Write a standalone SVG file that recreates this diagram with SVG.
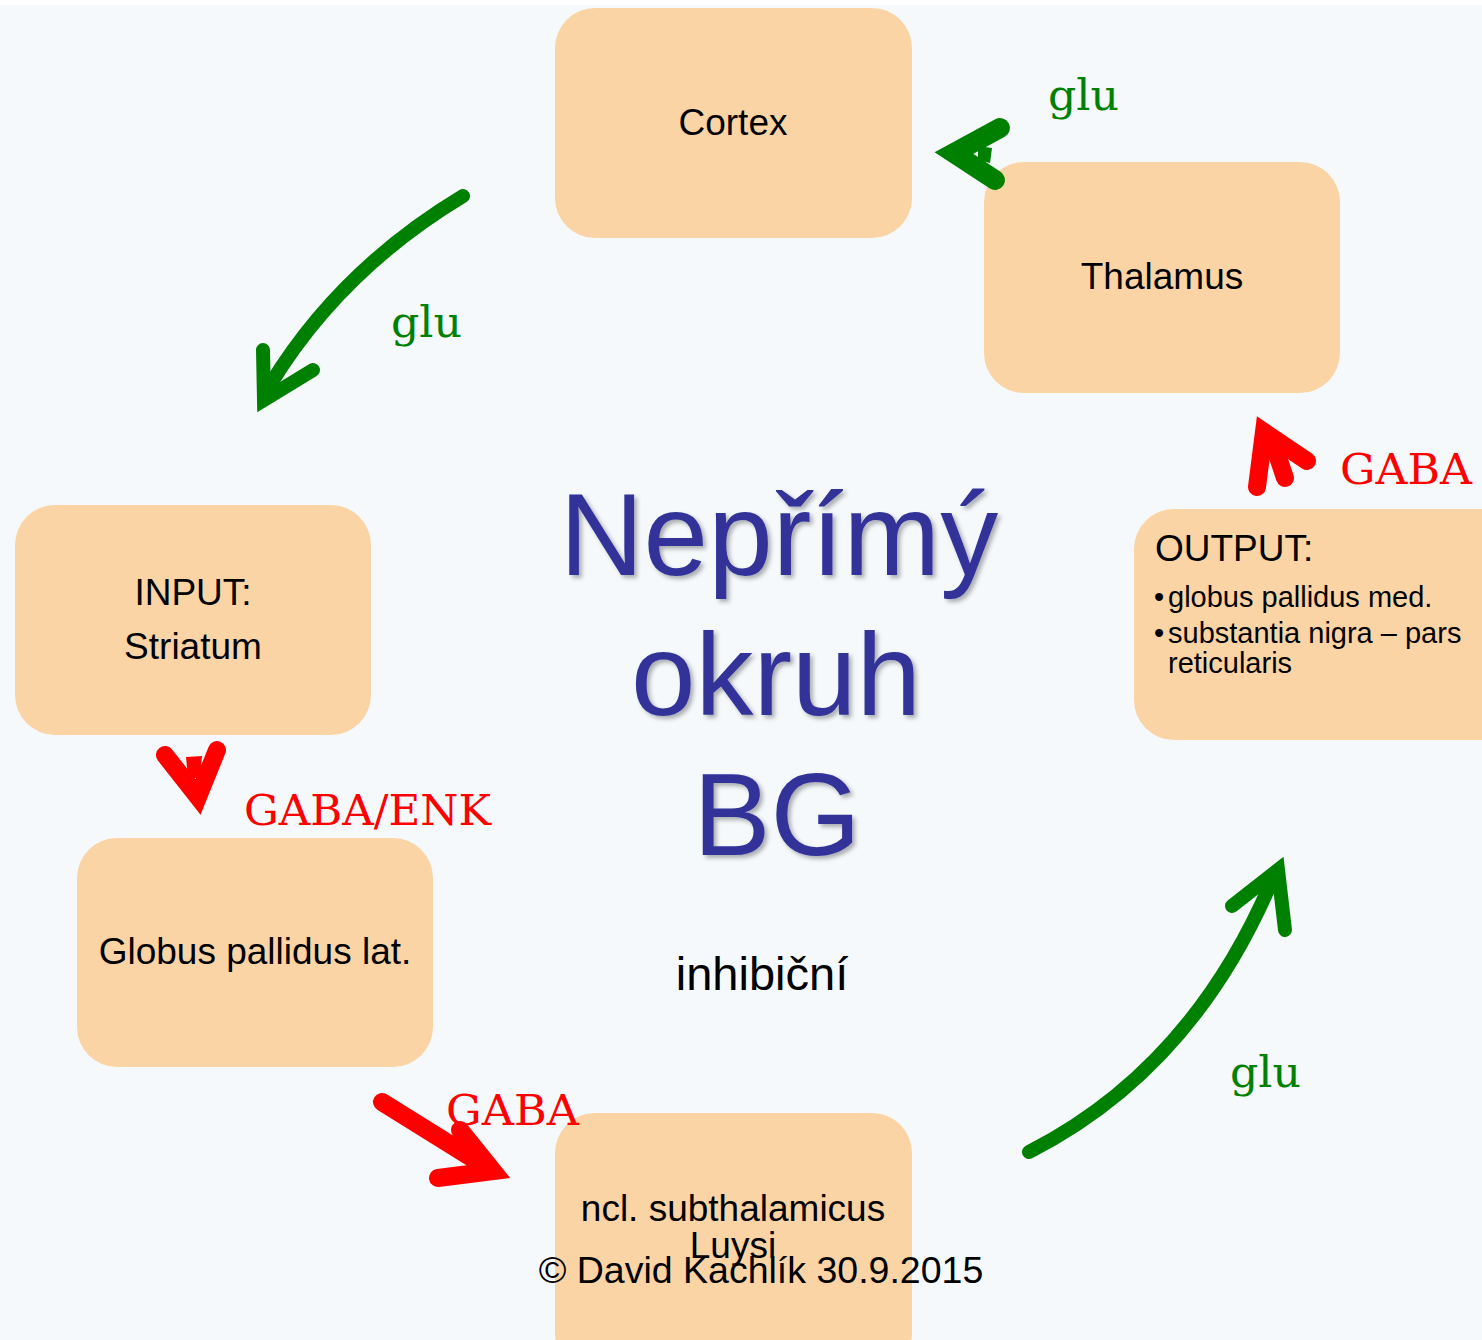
<svg xmlns="http://www.w3.org/2000/svg" width="1482" height="1340" viewBox="0 0 1482 1340">
<style>
.node{fill:#fbd4a5;}
.nt{font-family:"Liberation Sans",Arial,sans-serif;fill:#000;text-anchor:middle;font-size:37px;}
.ot{font-family:"Liberation Sans",Arial,sans-serif;fill:#000;font-size:29px;}
.lbl{font-family:"DejaVu Serif","Liberation Serif",serif;font-size:43px;}
.g{fill:#008000;}
.r{fill:#ff0000;}
.title{font-family:"Liberation Sans",Arial,sans-serif;fill:#333399;font-size:116px;text-anchor:middle;}
.ga{fill:none;stroke:#008000;stroke-width:14;stroke-linecap:round;stroke-linejoin:miter;}
.ra{fill:none;stroke:#ff0000;stroke-width:18;stroke-linecap:round;stroke-linejoin:miter;}
</style>
<defs>
<filter id="sh" x="-10%" y="-10%" width="130%" height="130%">
<feDropShadow dx="3" dy="3" stdDeviation="2" flood-color="#000" flood-opacity="0.3"/>
</filter>
</defs>
<rect x="0" y="0" width="1482" height="1340" fill="#ffffff"/>
<rect x="0" y="5" width="1482" height="1335" fill="#f5f9fb"/>

<g id="cortex"><rect class="node" x="555" y="8" width="357" height="230" rx="40"/><text class="nt" x="733" y="135">Cortex</text></g>
<g id="thalamus"><rect class="node" x="984" y="162" width="356" height="231" rx="40"/><text class="nt" x="1162" y="289">Thalamus</text></g>
<g id="striatum"><rect class="node" x="15" y="505" width="356" height="230" rx="40"/><text class="nt" x="193" y="605">INPUT:</text><text class="nt" x="193" y="659">Striatum</text></g>
<g id="gpl"><rect class="node" x="77" y="838" width="356" height="229" rx="40"/><text class="nt" x="255" y="964">Globus pallidus lat.</text></g>
<g id="stn"><rect class="node" x="555" y="1113" width="357" height="260" rx="40"/><text class="nt" x="733" y="1221">ncl. subthalamicus</text><text class="nt" x="733" y="1258">Luysi</text></g>
<g id="output"><rect class="node" x="1134" y="509" width="400" height="231" rx="40"/>
<text font-family="Liberation Sans,Arial,sans-serif" font-size="37" x="1155" y="561">OUTPUT:</text>
<text class="ot" x="1154" y="607">•</text><text class="ot" x="1168" y="607">globus pallidus med.</text>
<text class="ot" x="1154" y="643">•</text><text class="ot" x="1168" y="643">substantia nigra – pars</text>
<text class="ot" x="1168" y="673">reticularis</text>
</g>

<g id="title" filter="url(#sh)">
<text class="title" x="779" y="575">Nepřímý</text>
<text class="title" x="776" y="715">okruh</text>
<text class="title" x="777" y="855">BG</text>
</g>
<text font-family="Liberation Sans,Arial,sans-serif" font-size="47" x="762" y="990" text-anchor="middle">inhibiční</text>

<g id="connectors">
<path d="M1000,128 L954,153 L995,180" fill="none" stroke="#008000" stroke-width="20" stroke-linecap="round" stroke-linejoin="miter"/>
<path d="M978,146 L992,148 L990,163 L978,160 Z" fill="#008000"/>
<path class="ga" d="M463,196 Q 340,270 270,385"/>
<path class="ga" d="M263,350 L264,400 L313,370"/>
<path class="ga" d="M1029,1152 Q 1190,1070 1270,885"/>
<path class="ga" d="M1232,906 L1278,870 L1285,930"/>
<path class="ra" d="M165,755 L198,797 L217,750"/>
<path d="M186,757 L202,756 L200,778 L188,778 Z" fill="#ff0000"/>
<path class="ra" d="M382,1102 L488,1168"/>
<path class="ra" d="M460,1130 L493,1171 L438,1178"/>
<path class="ra" d="M1257,487 L1264,432 L1307,461"/>
<path class="ra" d="M1285,478 L1273,442"/>
</g>

<g id="labels">
<text class="lbl g" x="1048" y="110" textLength="71" lengthAdjust="spacingAndGlyphs">glu</text>
<text class="lbl g" x="391" y="337" textLength="71" lengthAdjust="spacingAndGlyphs">glu</text>
<text class="lbl g" x="1230" y="1087" textLength="71" lengthAdjust="spacingAndGlyphs">glu</text>
<text class="lbl r" x="1340" y="484" textLength="132" lengthAdjust="spacingAndGlyphs">GABA</text>
<text class="lbl r" x="244" y="825" textLength="247" lengthAdjust="spacingAndGlyphs">GABA/ENK</text>
<text class="lbl r" x="446" y="1125" textLength="133" lengthAdjust="spacingAndGlyphs">GABA</text>
</g>

<text font-family="Liberation Sans,Arial,sans-serif" font-size="37.5" x="761" y="1283" text-anchor="middle">© David Kachlík 30.9.2015</text>
</svg>
